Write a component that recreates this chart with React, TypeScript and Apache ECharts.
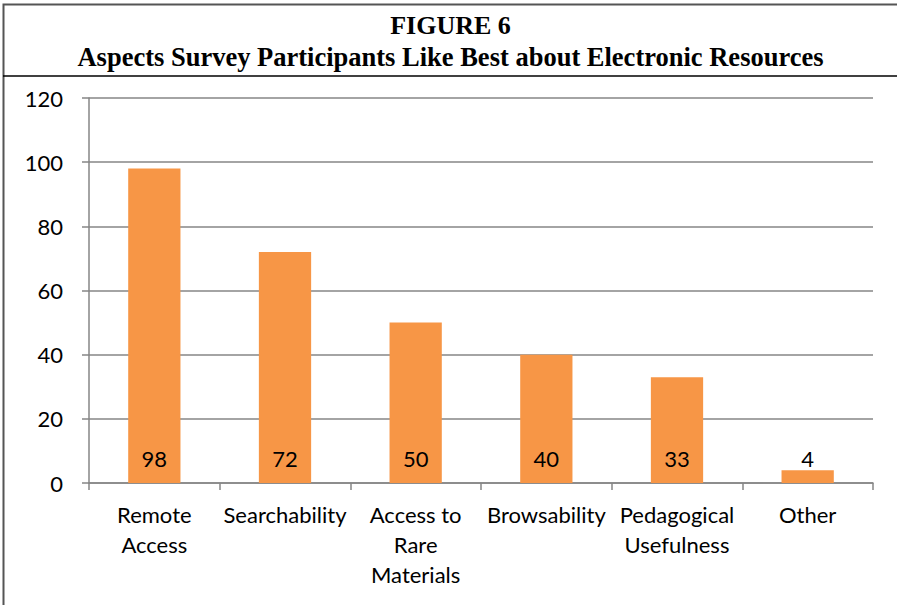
import React, { useEffect, useRef } from "react";
import * as echarts from "echarts";

const categories = [
  "Remote\nAccess",
  "Searchability",
  "Access to\nRare\nMaterials",
  "Browsability",
  "Pedagogical\nUsefulness",
  "Other",
];
const values = [98, 72, 50, 40, 33, 4];
const titleLines = [
  "FIGURE 6",
  "Aspects Survey Participants Like Best about Electronic Resources",
];

const W = 897;
const H = 605;
const labelFont = "Lato, 'Open Sans', sans-serif";
const titleFont = "'Liberation Serif', 'Times New Roman', serif";

export default function App() {
  const ref = useRef<HTMLDivElement>(null);
  useEffect(() => {
    const chart = echarts.init(ref.current!, undefined, { renderer: "svg" });
    chart.setOption({
      animation: false,
      backgroundColor: "#ffffff",
      graphic: [
        {
          type: "rect",
          shape: { x: 3.5, y: 4.5, width: W + 10, height: H + 10 },
          style: { fill: "none", stroke: "#555555", lineWidth: 2 },
          silent: true,
        },
        {
          type: "line",
          shape: { x1: 3, y1: 76, x2: W, y2: 76 },
          style: { stroke: "#000000", lineWidth: 1.5 },
          silent: true,
        },
        {
          type: "text",
          x: W / 2 + 2,
          y: 25,
          style: {
            text: titleLines[0],
            fontFamily: titleFont,
            fontWeight: "bold",
            fontSize: 26,
            fill: "#000",
            align: "center",
            verticalAlign: "middle",
          },
        },
        {
          type: "text",
          x: W / 2 + 2,
          y: 57,
          style: {
            text: titleLines[1],
            fontFamily: titleFont,
            fontWeight: "bold",
            fontSize: 26.5,
            fill: "#000",
            align: "center",
            verticalAlign: "middle",
          },
        },
      ],
      grid: { left: 89, right: 24, top: 98, bottom: 122, containLabel: false },
      xAxis: {
        type: "category",
        data: categories,
        axisLine: { show: true, lineStyle: { color: "#868686", width: 1.5 } },
        axisTick: {
          show: true,
          alignWithLabel: false,
          length: 7,
          lineStyle: { color: "#868686", width: 1.5 },
        },
        axisLabel: {
          interval: 0,
          margin: 16,
          fontFamily: labelFont,
          fontSize: 22,
          color: "#000",
          lineHeight: 30,
          align: "center",
        },
      },
      yAxis: {
        type: "value",
        min: 0,
        max: 120,
        interval: 20,
        axisLine: { show: true, lineStyle: { color: "#868686", width: 1.5 } },
        axisTick: {
          show: true,
          length: 7,
          lineStyle: { color: "#868686", width: 1.5 },
        },
        splitLine: { show: true, lineStyle: { color: "#868686", width: 1.5 } },
        axisLabel: {
          margin: 26,
          fontFamily: labelFont,
          fontSize: 22,
          color: "#000",
        },
      },
      series: [
        {
          type: "bar",
          data: values,
          barWidth: "40%",
          itemStyle: { color: "#F79646" },
          label: {
            show: true,
            position: "insideBottom",
            distance: 14,
            fontFamily: labelFont,
            fontSize: 22,
            color: "#000",
          },
        },
      ],
    });
    return () => chart.dispose();
  }, []);
  return (
    <div
      ref={ref}
      style={{ position: "fixed", left: 0, top: 0, width: W, height: H }}
    />
  );
}
